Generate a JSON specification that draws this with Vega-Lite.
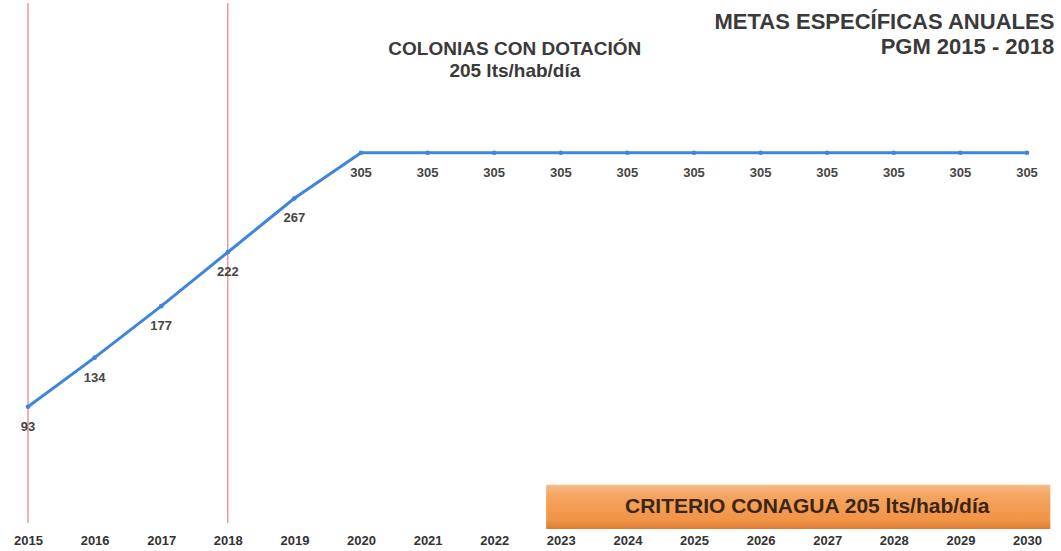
{
  "$schema": "https://vega.github.io/schema/vega-lite/v6.json",
  "width": 999,
  "height": 520,
  "autosize": {"type": "none"},
  "padding": {"left": 28, "top": 3, "right": 34, "bottom": 28},
  "background": "white",
  "config": {"view": {"stroke": null}, "font": "Liberation Sans"},
  "datasets": {
    "serie": [
      {"anio": 2015, "colonias": 93},
      {"anio": 2016, "colonias": 134},
      {"anio": 2017, "colonias": 177},
      {"anio": 2018, "colonias": 222},
      {"anio": 2019, "colonias": 267},
      {"anio": 2020, "colonias": 305},
      {"anio": 2021, "colonias": 305},
      {"anio": 2022, "colonias": 305},
      {"anio": 2023, "colonias": 305},
      {"anio": 2024, "colonias": 305},
      {"anio": 2025, "colonias": 305},
      {"anio": 2026, "colonias": 305},
      {"anio": 2027, "colonias": 305},
      {"anio": 2028, "colonias": 305},
      {"anio": 2029, "colonias": 305},
      {"anio": 2030, "colonias": 305}
    ],
    "periodo": [{"anio": 2015}, {"anio": 2018}],
    "criterio": [{"desde": 2022.78, "hasta": 2030.35, "abajo": -9, "arriba": 28, "centro": 2026.7, "medio": 9.5, "texto": "CRITERIO CONAGUA 205 lts/hab/día"}]
  },
  "layer": [
    {
      "data": {"name": "periodo"},
      "mark": {"type": "rule", "color": "#ef7f7f", "strokeWidth": 1.2},
      "encoding": {
        "x": {"field": "anio", "type": "quantitative", "scale": {"domain": [2015, 2030], "nice": false, "zero": false},
          "axis": {"values": [2015,2016,2017,2018,2019,2020,2021,2022,2023,2024,2025,2026,2027,2028,2029,2030], "format": "d", "title": null, "domain": false, "ticks": false, "grid": false, "labelFlush": false, "labelOverlap": false, "labelBound": false, "labelFontSize": 13, "labelFontWeight": "bold", "labelColor": "#333333", "labelPadding": 11, "labelFont": "Liberation Sans"}},
        "y": {"datum": 430, "type": "quantitative", "scale": {"domain": [-4, 430], "nice": false, "zero": false}, "axis": null},
        "y2": {"datum": -4}
      }
    },
    {
      "data": {"name": "serie"},
      "mark": {"type": "line", "color": "#3d86dc", "strokeWidth": 3, "point": {"filled": true, "size": 22, "color": "#3d86dc"}},
      "encoding": {
        "x": {"field": "anio", "type": "quantitative"},
        "y": {"field": "colonias", "type": "quantitative"}
      }
    },
    {
      "data": {"name": "serie"},
      "mark": {"type": "text", "dy": 20, "fontSize": 13, "fontWeight": "bold", "color": "#454545", "font": "Liberation Sans"},
      "encoding": {
        "x": {"field": "anio", "type": "quantitative"},
        "y": {"field": "colonias", "type": "quantitative"},
        "text": {"field": "colonias", "type": "quantitative"}
      }
    },
    {
      "data": {"name": "criterio"},
      "mark": {"type": "rect", "fill": {"gradient": "linear", "x1": 0, "y1": 0, "x2": 0, "y2": 1, "stops": [{"offset": 0, "color": "#f8bb88"}, {"offset": 0.25, "color": "#f5a460"}, {"offset": 0.8, "color": "#f19445"}, {"offset": 1, "color": "#dd7d35"}]}},
      "encoding": {
        "x": {"field": "desde", "type": "quantitative"},
        "x2": {"field": "hasta"},
        "y": {"field": "arriba", "type": "quantitative"},
        "y2": {"field": "abajo"}
      }
    },
    {
      "data": {"name": "criterio"},
      "mark": {"type": "text", "fontSize": 21, "fontWeight": "bold", "color": "#3a2614", "font": "Liberation Sans"},
      "encoding": {
        "x": {"field": "centro", "type": "quantitative"},
        "y": {"field": "medio", "type": "quantitative"},
        "text": {"field": "texto"}
      }
    },
    {
      "data": {"values": [{}]},
      "mark": {"type": "text", "fontSize": 19, "fontWeight": "bold", "color": "#3a3a3a", "font": "Liberation Sans", "lineHeight": 22, "align": "center", "baseline": "middle"},
      "encoding": {
        "x": {"datum": 2022.31},
        "y": {"datum": 392},
        "text": {"value": ["COLONIAS CON DOTACIÓN", "205 lts/hab/día"]}
      }
    },
    {
      "data": {"values": [{}]},
      "mark": {"type": "text", "fontSize": 22, "fontWeight": "bold", "color": "#3a3a3a", "font": "Liberation Sans", "lineHeight": 25, "align": "right", "baseline": "middle"},
      "encoding": {
        "x": {"datum": 2030.41},
        "y": {"datum": 414},
        "text": {"value": ["METAS ESPECÍFICAS ANUALES", "PGM 2015 - 2018"]}
      }
    }
  ]
}
